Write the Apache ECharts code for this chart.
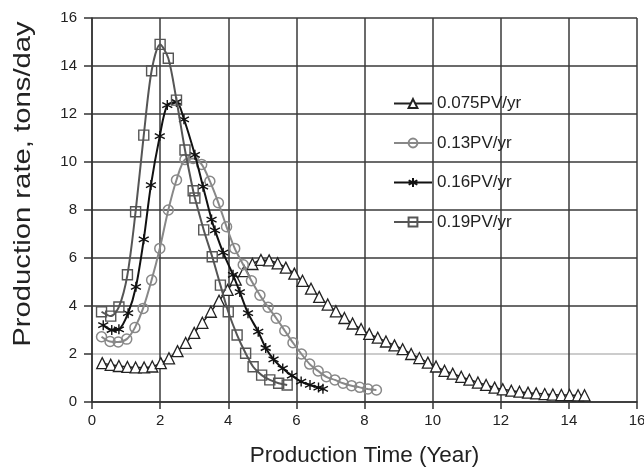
<!DOCTYPE html>
<html>
<head>
<meta charset="utf-8">
<script src="https://cdn.jsdelivr.net/npm/echarts@6/dist/echarts.min.js"></script>
<style>
html,body{margin:0;padding:0;background:#fff;}
#chart{width:644px;height:467px;}
</style>
</head>
<body>
<div id="chart"></div>
<script>
const seriesNames = ['0.075PV/yr', '0.13PV/yr', '0.16PV/yr', '0.19PV/yr'];
const xTicks = [0, 2, 4, 6, 8, 10, 12, 14, 16];
const yTicks = [0, 2, 4, 6, 8, 10, 12, 14, 16];
const xTitle = 'Production Time (Year)';
const yTitle = 'Production rate, tons/day';

const t075 = [0.30,0.55,0.79,1.04,1.28,1.53,1.77,2.02,2.26,2.51,2.75,3.00,3.24,3.49,3.73,3.98,4.22,4.47,4.71,4.96,5.20,5.45,5.69,5.94,6.18,6.43,6.67,6.92,7.16,7.41,7.65,7.90,8.14,8.39,8.63,8.88,9.12,9.37,9.61,9.86,10.10,10.35,10.59,10.84,11.08,11.33,11.57,11.82,12.06,12.31,12.55,12.80,13.04,13.29,13.53,13.78,14.02,14.27,14.46];
const v075 = [1.62,1.55,1.50,1.46,1.44,1.44,1.48,1.62,1.82,2.12,2.46,2.88,3.30,3.76,4.22,4.67,5.10,5.45,5.75,5.92,5.90,5.78,5.60,5.35,5.05,4.72,4.38,4.06,3.78,3.50,3.27,3.04,2.84,2.68,2.52,2.36,2.20,2.00,1.83,1.64,1.48,1.30,1.18,1.05,0.93,0.81,0.71,0.60,0.53,0.47,0.43,0.39,0.36,0.33,0.31,0.29,0.29,0.28,0.28];

const t013 = [0.28,0.53,0.77,1.02,1.26,1.50,1.75,1.99,2.24,2.48,2.73,2.97,3.22,3.46,3.71,3.95,4.19,4.44,4.68,4.93,5.17,5.41,5.66,5.90,6.15,6.39,6.64,6.88,7.13,7.37,7.62,7.86,8.10,8.35];
const v013 = [2.72,2.52,2.50,2.62,3.10,3.90,5.08,6.40,8.00,9.25,10.10,10.15,9.90,9.20,8.30,7.30,6.40,5.72,5.05,4.45,3.95,3.49,2.97,2.47,2.00,1.58,1.29,1.05,0.92,0.78,0.68,0.61,0.54,0.50];

const t016 = [0.33,0.58,0.79,1.06,1.29,1.52,1.73,1.99,2.21,2.48,2.70,3.02,3.26,3.51,3.61,3.85,4.14,4.34,4.58,4.88,5.10,5.33,5.60,5.87,6.14,6.40,6.65,6.78];
const v016 = [3.20,3.00,3.03,3.70,4.80,6.78,9.04,11.08,12.37,12.50,11.78,10.30,8.97,7.60,7.15,6.22,5.30,4.58,3.70,2.93,2.25,1.78,1.40,1.10,0.85,0.71,0.60,0.55];

const t019 = [0.28,0.55,0.79,1.04,1.28,1.52,1.75,2.00,2.24,2.48,2.73,2.97,3.02,3.28,3.53,3.77,4.00,4.26,4.51,4.73,4.98,5.22,5.48,5.73];
const v019 = [3.76,3.58,3.96,5.30,7.93,11.12,13.80,14.90,14.32,12.58,10.50,8.80,8.50,7.17,6.05,4.87,3.76,2.79,2.03,1.47,1.12,0.92,0.78,0.71];

function pairs(t, v) { return t.map((x, i) => [x, v[i]]); }

const asterisk = 'path://M0,-5L0,5M-4.33,-2.5L4.33,2.5M-4.33,2.5L4.33,-2.5';
const FONT = 'Liberation Sans, Arial, sans-serif';
const GRID = '#3a3a3a';

const chart = echarts.init(document.getElementById('chart'), null, {renderer: 'canvas'});
const option = {
  backgroundColor: '#fff',
  animation: false,
  grid: {left: 92, right: 7, top: 18, bottom: 65, outerBoundsMode: 'none', containLabel: false},
  graphic: [
    {
      type: 'text', x: 23, y: 184, rotation: Math.PI / 2, scaleX: 1.22, scaleY: 1,
      style: {text: yTitle, fontSize: 24, fill: '#222', fontFamily: FONT,
        align: 'center', verticalAlign: 'middle'}
    }
  ],
  legend: {
    orient: 'vertical',
    left: 393,
    top: 95,
    padding: 0,
    itemWidth: 38,
    itemHeight: 11,
    itemGap: 22.5,
    textStyle: {fontSize: 17, color: '#222', fontFamily: FONT},
    data: seriesNames
  },
  xAxis: {
    type: 'value', min: 0, max: 16, interval: 2,
    name: xTitle, nameLocation: 'middle', nameGap: 42,
    nameTextStyle: {fontSize: 22.5, color: '#222', fontFamily: FONT},
    axisLine: {show: true, lineStyle: {color: '#333', width: 1.5}},
    axisTick: {show: true, length: 7, lineStyle: {color: '#333', width: 1.5}},
    axisLabel: {fontSize: 15, color: '#222', fontFamily: FONT, margin: 11,
      formatter: v => xTicks.includes(v) ? String(v) : ''},
    splitLine: {show: true, lineStyle: {color: GRID, width: 1.5}}
  },
  yAxis: {
    type: 'value', min: 0, max: 16, interval: 2,
    axisLine: {show: true, lineStyle: {color: '#333', width: 1.5}},
    axisTick: {show: true, length: 8, lineStyle: {color: '#333', width: 1.5}},
    axisLabel: {fontSize: 15, color: '#222', fontFamily: FONT, margin: 15,
      formatter: v => yTicks.includes(v) ? String(v) : ''},
    splitLine: {show: true, lineStyle: {color: [GRID, '#bbbbbb', GRID, GRID, GRID, GRID, GRID, GRID, GRID], width: 1.5}}
  },
  series: [
    {
      name: seriesNames[0], type: 'line', smooth: 0.3, data: pairs(t075, v075),
      symbol: 'triangle', symbolSize: 11,
      lineStyle: {color: '#222', width: 1.5},
      itemStyle: {color: '#fff', borderColor: '#222', borderWidth: 1.3},
      z: 3
    },
    {
      name: seriesNames[1], type: 'line', smooth: 0.3, data: pairs(t013, v013),
      symbol: 'circle', symbolSize: 10,
      lineStyle: {color: '#888', width: 2},
      itemStyle: {color: 'rgba(255,255,255,0)', borderColor: '#888', borderWidth: 1.5},
      z: 4
    },
    {
      name: seriesNames[2], type: 'line', smooth: 0.3, data: pairs(t016, v016),
      symbol: asterisk, symbolSize: 10,
      lineStyle: {color: '#111', width: 2},
      itemStyle: {color: 'rgba(0,0,0,0)', borderColor: '#111', borderWidth: 1.4},
      z: 5
    },
    {
      name: seriesNames[3], type: 'line', smooth: 0.3, data: pairs(t019, v019),
      symbol: 'rect', symbolSize: 10,
      lineStyle: {color: '#555', width: 2},
      itemStyle: {color: 'rgba(255,255,255,0)', borderColor: '#555', borderWidth: 1.4},
      z: 6
    }
  ]
};
chart.setOption(option);
</script>
</body>
</html>
